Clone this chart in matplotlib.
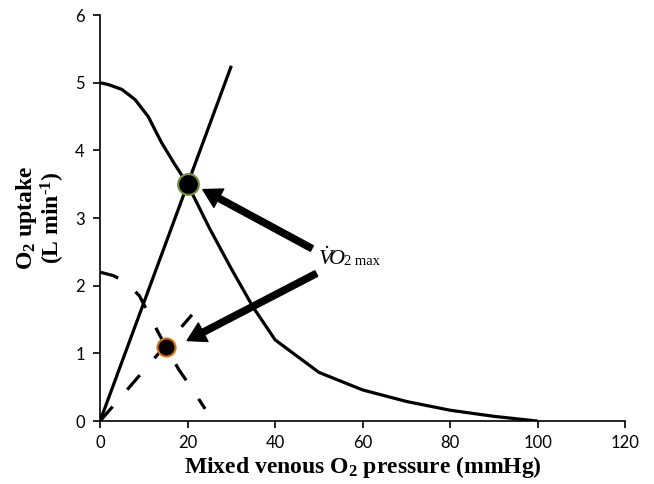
import numpy as np
import matplotlib.pyplot as plt

plt.rcParams['mathtext.fontset'] = 'custom'
plt.rcParams['mathtext.rm'] = 'Liberation Serif'
plt.rcParams['mathtext.it'] = 'Liberation Serif:italic'
plt.rcParams['mathtext.bf'] = 'Liberation Serif:bold'

# O2 delivery (solid) and diffusion lines
delivery_x = [0, 2, 5, 8, 11, 14, 17, 20, 25, 30, 35, 40, 50, 60, 70, 80, 90, 100]
delivery_y = [5.0, 4.97, 4.9, 4.75, 4.5, 4.12, 3.8, 3.5, 2.85, 2.25, 1.68, 1.2, 0.72, 0.46, 0.29, 0.16, 0.07, 0.0]
diffusion_x = [0, 30]
diffusion_y = [0, 5.25]

# reduced curves (dashed)
delivery2_x = [0, 3, 6, 9, 12, 15, 18, 21, 24]
delivery2_y = [2.2, 2.15, 2.05, 1.85, 1.47, 1.1, 0.76, 0.48, 0.18]
diffusion2_x = [0, 21]
diffusion2_y = [0, 1.57]

vo2max_pts = [(20, 3.5), (15, 1.1)]
arrow_tips = [(23.5, 3.42), (19.9, 1.19)]
arrow_tails = [(48.4, 2.55), (49.4, 2.18)]
label_pos = (49.8, 2.3)

fig = plt.figure(figsize=(6.54, 4.84), dpi=100)
ax = fig.add_axes([0.153, 0.13, 0.803, 0.839])

ax.plot(delivery_x, delivery_y, color='black', lw=2.3, solid_capstyle='butt')
ax.plot(diffusion_x, diffusion_y, color='black', lw=2.3, solid_capstyle='butt')
ax.plot(delivery2_x, delivery2_y, color='black', lw=2.3, linestyle=(0, (6.0, 7.0)))
ax.plot(diffusion2_x, diffusion2_y, color='black', lw=2.3, linestyle=(0, (6.0, 7.0)))

ax.plot(*vo2max_pts[0], 'o', color='black', markersize=15, markeredgecolor='#77933C', markeredgewidth=1.5, zorder=5)
ax.plot(*vo2max_pts[1], 'o', color='black', markersize=13, markeredgecolor='#E46C0A', markeredgewidth=1.5, zorder=5)

for tail, tip in zip(arrow_tails, arrow_tips):
    ax.annotate('', xy=tip, xytext=tail,
                arrowprops=dict(facecolor='black', edgecolor='black', width=4.5, headwidth=15, headlength=13, shrink=0))

# V-dot O2 max label: "VO" italic, "2 max" smaller upright on same baseline
t1 = ax.text(label_pos[0], label_pos[1], r'$\dot{V}\!O$', fontsize=16, va='baseline', ha='left')
fig.canvas.draw()
bb = t1.get_window_extent(renderer=fig.canvas.get_renderer())
x_end = ax.transData.inverted().transform((bb.x1, 0))[0]
ax.text(x_end, label_pos[1], '2 max', family='Liberation Serif', fontsize=10.5, va='baseline', ha='left')

ax.set_xlim(0, 120)
ax.set_ylim(0, 6)
ax.set_xticks(range(0, 121, 20))
ax.set_yticks(range(0, 7))
for s in ['top', 'right']:
    ax.spines[s].set_visible(False)
for s in ['left', 'bottom']:
    ax.spines[s].set_linewidth(1.2)
ax.tick_params(direction='out', length=5, width=1.2, labelsize=12)
ax.tick_params(axis='x', pad=5)
ax.tick_params(axis='y', pad=6)
for lab in ax.get_xticklabels() + ax.get_yticklabels():
    lab.set_family('Lato')

ax.set_xlabel(r'Mixed venous O$_\mathbf{2}$ pressure (mmHg)', family='Liberation Serif', fontweight='bold', fontsize=17, labelpad=2)
ax.set_ylabel('O$_\\mathbf{2}$ uptake\n(L min$^\\mathbf{\u20101}$)', family='Liberation Serif', fontweight='bold', fontsize=17, labelpad=6, linespacing=1.0)

fig.savefig('out.png', dpi=100)
